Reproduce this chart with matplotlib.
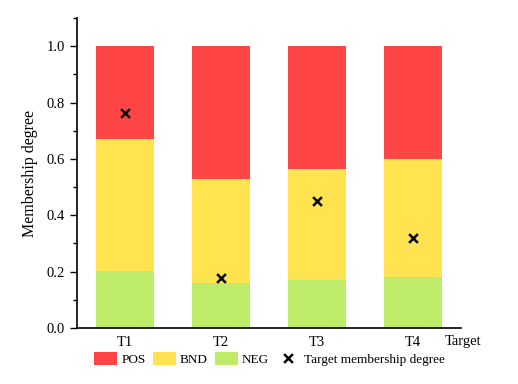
import matplotlib.pyplot as plt
from matplotlib.ticker import MultipleLocator
import numpy as np

plt.rcParams['font.family'] = ['Liberation Serif', 'DejaVu Serif']

targets = ['T1', 'T2', 'T3', 'T4']
neg = [0.202, 0.159, 0.170, 0.182]
bnd_top = [0.672, 0.529, 0.564, 0.600]
target_degree = [0.764, 0.179, 0.450, 0.321]

neg = np.array(neg)
bnd = np.array(bnd_top) - neg
pos = 1.0 - np.array(bnd_top)

red = '#FF4545'
yellow = '#FFE350'
green = '#BEEC6A'

fig = plt.figure(figsize=(5.18, 3.84), dpi=100)
ax = fig.add_axes([0.1486, 0.1458, 0.742, 0.807])

x = np.arange(1, len(targets) + 1)
ax.bar(x, pos, 0.6, bottom=neg + bnd, color=red, label='POS')
ax.bar(x, bnd, 0.6, bottom=neg, color=yellow, label='BND')
ax.bar(x, neg, 0.6, color=green, label='NEG')
ax.scatter(x, target_degree, marker='x', color='black', s=40, linewidths=1.8,
           zorder=3, label='Target membership degree')

ax.set_xlim(0.5, 4.5)
ax.set_ylim(0, 1.1)
ax.set_xticks(x)
ax.set_xticklabels(targets)
ax.set_yticks(np.arange(0, 1.01, 0.2))
ax.yaxis.set_minor_locator(MultipleLocator(0.1))
ax.tick_params(axis='x', length=0, labelsize=10.5, pad=6)
ax.tick_params(axis='y', which='major', length=5, width=1, labelsize=10.5)
ax.tick_params(axis='y', which='minor', length=3, width=1)
ax.spines['top'].set_visible(False)
ax.spines['right'].set_visible(False)
ax.spines['left'].set_linewidth(1.2)
ax.spines['bottom'].set_linewidth(1.2)
ax.set_ylabel('Membership degree', fontsize=11.5, labelpad=6)
ax.text(0.958, -0.045, 'Target', transform=ax.transAxes, fontsize=10.5,
        ha='left', va='center')

handles, labels = ax.get_legend_handles_labels()
order = [labels.index(n) for n in ['POS', 'BND', 'NEG', 'Target membership degree']]
fig.legend([handles[i] for i in order], [labels[i] for i in order],
           loc='center', bbox_to_anchor=(0.52, 0.065), ncol=4, frameon=False,
           fontsize=9.5, handlelength=1.75, handleheight=1.1, columnspacing=0.55,
           handletextpad=0.3)

fig.savefig('out.png', dpi=100)
